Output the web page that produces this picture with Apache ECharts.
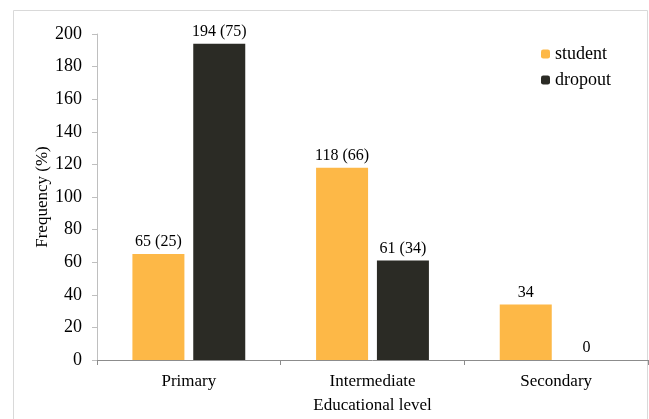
<!DOCTYPE html>
<html><head><meta charset="utf-8">
<script src="https://cdn.jsdelivr.net/npm/echarts@6/dist/echarts.min.js"></script>
<style>html,body{margin:0;padding:0;background:#fff}#c{width:649px;height:419px}</style>
</head><body><div id="c"></div>
<script>
const categories = ['Primary', 'Intermediate', 'Secondary'];
const studentValues = [65, 118, 34];
const dropoutValues = [194, 61, 0];
const studentLabels = ['65 (25)', '118 (66)', '34'];
const dropoutLabels = ['194 (75)', '61 (34)', '0'];
const yTicks = [0, 20, 40, 60, 80, 100, 120, 140, 160, 180, 200];

const font = 'Liberation Serif';
const chart = echarts.init(document.getElementById('c'), null, {renderer: 'canvas'});
chart.setOption({
  animation: false,
  backgroundColor: '#fff',
  textStyle: {fontFamily: font, color: '#000'},
  graphic: [{
    type: 'rect', shape: {x: 13.5, y: 10.5, width: 634, height: 420},
    style: {fill: 'none', stroke: '#d9d9d9', lineWidth: 1}, silent: true
  }],
  grid: {left: 97, right: 1, top: 34, bottom: 57, containLabel: false},
  legend: {
    orient: 'vertical', left: 536, top: 40, itemWidth: 9, itemHeight: 9, itemGap: 8,
    textStyle: {fontFamily: font, fontSize: 18, color: '#000'},
    data: ['student', 'dropout']
  },
  xAxis: {
    type: 'category', data: categories,
    name: 'Educational level', nameLocation: 'middle', nameGap: 37,
    nameTextStyle: {fontFamily: font, fontSize: 17, color: '#000'},
    axisLine: {lineStyle: {color: '#8c8c8c', width: 1}},
    axisTick: {show: true, length: 5, lineStyle: {color: '#8c8c8c'}},
    axisLabel: {fontFamily: font, fontSize: 17, color: '#000', margin: 13}
  },
  yAxis: {
    type: 'value', min: yTicks[0], max: yTicks[yTicks.length - 1], interval: 20,
    name: 'Frequency (%)', nameLocation: 'middle', nameGap: 46, nameRotate: 90,
    nameMoveOverlap: false,
    nameTextStyle: {fontFamily: font, fontSize: 17, color: '#000'},
    axisLine: {show: true, lineStyle: {color: '#bfbfbf'}},
    axisTick: {show: true, length: 5, lineStyle: {color: '#bfbfbf'}},
    splitLine: {show: false},
    axisLabel: {fontFamily: font, fontSize: 18, color: '#000', margin: 15}
  },
  series: [{
    name: 'student', type: 'bar', data: studentValues, barWidth: 52, barGap: '17%',
    itemStyle: {color: '#FDB847'},
    label: {show: true, position: 'top', distance: 4, fontFamily: font, fontSize: 16, color: '#000',
      formatter: p => studentLabels[p.dataIndex]}
  }, {
    name: 'dropout', type: 'bar', data: dropoutValues, barWidth: 52,
    itemStyle: {color: '#2B2B25'},
    label: {show: true, position: 'top', distance: 4, fontFamily: font, fontSize: 16, color: '#000',
      formatter: p => dropoutLabels[p.dataIndex]}
  }]
});
</script></body></html>
